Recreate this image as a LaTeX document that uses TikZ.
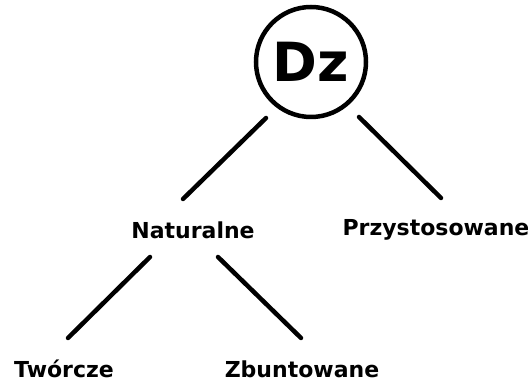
\documentclass[tikz,border=0pt]{standalone}
\usepackage{fontspec}
\setmainfont{DejaVu Sans}
\begin{document}
\begin{tikzpicture}[x=1pt,y=1pt,
		branch/.style={line width=4.5pt, line cap=round},
		label/.style={font=\fontsize{22}{26}\selectfont\bfseries, inner sep=0pt}]
			\useasboundingbox (0,0) rectangle (528,382);
			\node[draw, circle, line width=4.5pt, minimum size=110pt, font=\fontsize{54}{60}\selectfont\bfseries] (dz) at (311,320) {Dz};
			\node[label] (nat) at (193,152) {Naturalne};
			\node[label] (prz) at (436,152) {Przystosowane};
			\node[label] (twor) at (64,13) {Twórcze};
			\node[label] (zbun) at (302,13) {Zbuntowane};
			\draw[branch] ([shift={(-45,-56)}]dz.center)--([shift={(-10,31)}]nat.center);
			\draw[branch] ([shift={(48,-55)}]dz.center)--([shift={(5,32)}]prz.center);
			\draw[branch] ([shift={(-43,-27)}]nat.center)--([shift={(4,31)}]twor.center);
			\draw[branch] ([shift={(25,-27)}]nat.center)--([shift={(-1,31)}]zbun.center);
		\end{tikzpicture}
\end{document}
